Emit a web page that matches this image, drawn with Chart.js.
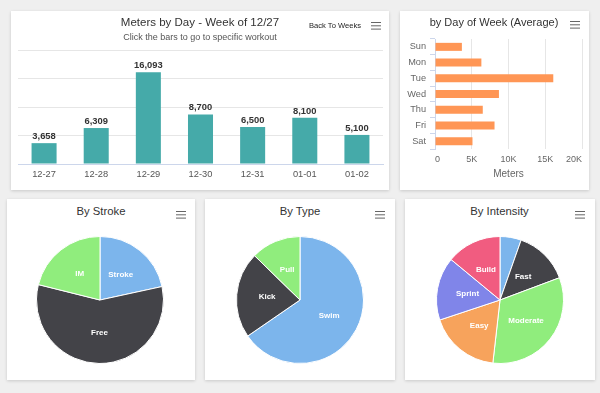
<!DOCTYPE html>
<html lang="en">
<head>
  <meta charset="UTF-8" />
  <title>Swim Meters Dashboard</title>
  <script src="https://cdn.jsdelivr.net/npm/chart.js"></script>
  <style>
    * { box-sizing: border-box; }

    html, body {
      margin: 0;
      padding: 0;
      background: #efefef;
      font-family: 'Liberation Sans', Arial, sans-serif;
    }

    .page {
      position: relative;
      width: 600px;
      height: 393px;
      overflow: hidden;
    }

    .card {
      position: absolute;
      background: #fff;
      box-shadow: 0 1px 3px rgba(0, 0, 0, 0.16);
    }

    .box {
      position: absolute;
    }

    .ttl {
      position: absolute;
      white-space: nowrap;
      line-height: 1;
      transform: translateX(-50%);
      color: #333;
    }

    .menu {
      position: absolute;
      width: 10px;
      height: 1.5px;
      background: #666;
      box-shadow: 0 3.3px 0 #666, 0 6.6px 0 #666;
    }

    .back {
      position: absolute;
      white-space: nowrap;
      line-height: 1;
      font-size: 7.6px;
      color: #222;
    }
  </style>
</head>
<body>
  <div class="page">
    <!-- cards -->
    <div class="card" style="left:11px;top:11px;width:378px;height:179px"></div>
    <div class="card" style="left:400px;top:11px;width:189px;height:179px"></div>
    <div class="card" style="left:7px;top:199px;width:188px;height:181px"></div>
    <div class="card" style="left:205px;top:199px;width:190px;height:181px"></div>
    <div class="card" style="left:405px;top:199px;width:190px;height:181px"></div>

    <!-- charts -->
    <div class="box" style="left:11px;top:11px;width:378px;height:179px"><canvas id="dayChart"></canvas></div>
    <div class="box" style="left:400px;top:11px;width:189px;height:179px"><canvas id="weekdayChart"></canvas></div>
    <div class="box" style="left:36px;top:236px;width:128px;height:128px"><canvas id="strokeChart"></canvas></div>
    <div class="box" style="left:236px;top:236px;width:128px;height:128px"><canvas id="typeChart"></canvas></div>
    <div class="box" style="left:436px;top:236px;width:128px;height:128px"><canvas id="intensityChart"></canvas></div>

    <!-- titles -->
    <div class="ttl" style="left:200px;top:17px;font-size:11.5px">Meters by Day - Week of 12/27</div>
    <div class="ttl" style="left:200px;top:33px;font-size:9px;color:#555">Click the bars to go to specific workout</div>
    <div class="back" style="left:309px;top:22px">Back To Weeks</div>
    <div class="ttl" style="left:494px;top:17px;font-size:11px">by Day of Week (Average)</div>
    <div class="ttl" style="left:101px;top:205.5px;font-size:11.3px">By Stroke</div>
    <div class="ttl" style="left:300px;top:205.5px;font-size:11.3px">By Type</div>
    <div class="ttl" style="left:499.5px;top:205.5px;font-size:11.3px">By Intensity</div>

    <!-- menu icons -->
    <div class="menu" style="left:371px;top:21.5px"></div>
    <div class="menu" style="left:570px;top:20.5px"></div>
    <div class="menu" style="left:176px;top:210.5px"></div>
    <div class="menu" style="left:375px;top:210.5px"></div>
    <div class="menu" style="left:575px;top:210.5px"></div>
  </div>

  <script>
    // data
    const days = ['12-27', '12-28', '12-29', '12-30', '12-31', '01-01', '01-02'];
    const dayMeters = [3658, 6309, 16093, 8700, 6500, 8100, 5100];

    const weekdays = ['Sun', 'Mon', 'Tue', 'Wed', 'Thu', 'Fri', 'Sat'];
    const weekdayAvg = [3658, 6309, 16093, 8700, 6500, 8100, 5100];
    const meterTickLabels = ['0', '5K', '10K', '15K', '20K'];

    const strokeLabels = ['Stroke', 'Free', 'IM'];
    const strokeShare = [21.6, 57.3, 21.1];

    const typeLabels = ['Swim', 'Kick', 'Pull'];
    const typeShare = [65.4, 21.9, 12.7];

    const intensityLabels = ['', 'Fast', 'Moderate', 'Easy', 'Sprint', 'Build'];
    const intensityShare = [5.4, 13.9, 32.5, 18.1, 16.1, 14.0];

    const palette = ['#7cb5ec', '#434348', '#90ed7d', '#f7a35c', '#8085e9', '#f15c80'];

    Chart.defaults.font.family = "'Liberation Sans', Arial, sans-serif";
    Chart.defaults.animation = false;
    Chart.defaults.responsive = true;
    Chart.defaults.maintainAspectRatio = false;
    Chart.defaults.plugins.legend.display = false;
    Chart.defaults.plugins.tooltip.enabled = false;

    // value labels above the columns
    const barLabels = {
      id: 'barLabels',
      afterDatasetsDraw(chart) {
        const ctx = chart.ctx;
        const meta = chart.getDatasetMeta(0);
        ctx.save();
        ctx.font = "bold 9.4px 'Liberation Sans', Arial, sans-serif";
        ctx.fillStyle = '#333';
        ctx.textAlign = 'center';
        ctx.textBaseline = 'alphabetic';
        meta.data.forEach((bar, i) => {
          const v = chart.data.datasets[0].data[i];
          ctx.fillText(v.toLocaleString('en-US'), bar.x, bar.y - 4.3);
        });
        ctx.restore();
      }
    };

    // names inside the pie slices
    const sliceLabels = {
      id: 'sliceLabels',
      afterDatasetsDraw(chart) {
        const ctx = chart.ctx;
        const meta = chart.getDatasetMeta(0);
        ctx.save();
        ctx.font = "bold 8px 'Liberation Sans', Arial, sans-serif";
        ctx.fillStyle = '#fff';
        ctx.textAlign = 'center';
        ctx.textBaseline = 'middle';
        meta.data.forEach((arc, i) => {
          const name = chart.data.labels[i];
          if (!name) return;
          const mid = (arc.startAngle + arc.endAngle) / 2;
          const r = arc.outerRadius - 30.5;
          ctx.fillText(name, arc.x + Math.cos(mid) * r, arc.y + Math.sin(mid) * r);
        });
        ctx.restore();
      }
    };

    // Meters by day
    new Chart(document.getElementById('dayChart'), {
      type: 'bar',
      data: {
        labels: days,
        datasets: [{
          data: dayMeters,
          backgroundColor: '#45aaa9',
          barPercentage: 0.48,
          categoryPercentage: 1
        }]
      },
      options: {
        layout: { padding: { left: 7, right: 6, top: 39, bottom: 0 } },
        scales: {
          x: {
            grid: { display: false, drawTicks: false },
            border: { color: '#ccd6eb' },
            ticks: { color: '#555', font: { size: 9.3 }, padding: 5 },
            afterFit: s => { s.height = 26; }
          },
          y: {
            min: 0,
            max: 20000,
            ticks: { display: false, stepSize: 5000 },
            grid: { color: '#e6e6e6', drawTicks: false },
            border: { display: false },
            afterFit: s => { s.width = 0; }
          }
        }
      },
      plugins: [barLabels]
    });

    // Average by weekday
    new Chart(document.getElementById('weekdayChart'), {
      type: 'bar',
      data: {
        labels: weekdays,
        datasets: [{
          data: weekdayAvg,
          backgroundColor: '#ff9655',
          barPercentage: 0.51,
          categoryPercentage: 1
        }]
      },
      options: {
        indexAxis: 'y',
        layout: { padding: { left: 0, right: 7, top: 28, bottom: 0 } },
        scales: {
          x: {
            min: 0,
            max: 20000,
            ticks: {
              stepSize: 5000,
              callback: (v, i) => meterTickLabels[i],
              color: '#666',
              font: { size: 9 },
              padding: 5.5,
              align: 'inner'
            },
            grid: { color: '#e6e6e6', drawTicks: false },
            border: { display: false },
            title: {
              display: true,
              text: 'Meters',
              color: '#666',
              font: { size: 10 },
              padding: { top: 0, bottom: 9.5 }
            },
            afterFit: s => { s.height = 41; }
          },
          y: {
            grid: { offset: true, drawOnChartArea: false, color: '#ccd6eb', tickLength: 5 },
            border: { color: '#ccd6eb' },
            ticks: { color: '#666', font: { size: 9.2 }, padding: 4 },
            afterFit: s => { s.width = 35; }
          }
        }
      }
    });

    function pie(id, labels, values) {
      new Chart(document.getElementById(id), {
        type: 'pie',
        data: {
          labels: labels,
          datasets: [{
            data: values,
            backgroundColor: palette.slice(0, values.length),
            borderColor: '#fff',
            borderWidth: 1
          }]
        },
        options: { layout: { padding: 0 } },
        plugins: [sliceLabels]
      });
    }

    pie('strokeChart', strokeLabels, strokeShare);
    pie('typeChart', typeLabels, typeShare);
    pie('intensityChart', intensityLabels, intensityShare);
  </script>
</body>
</html>
